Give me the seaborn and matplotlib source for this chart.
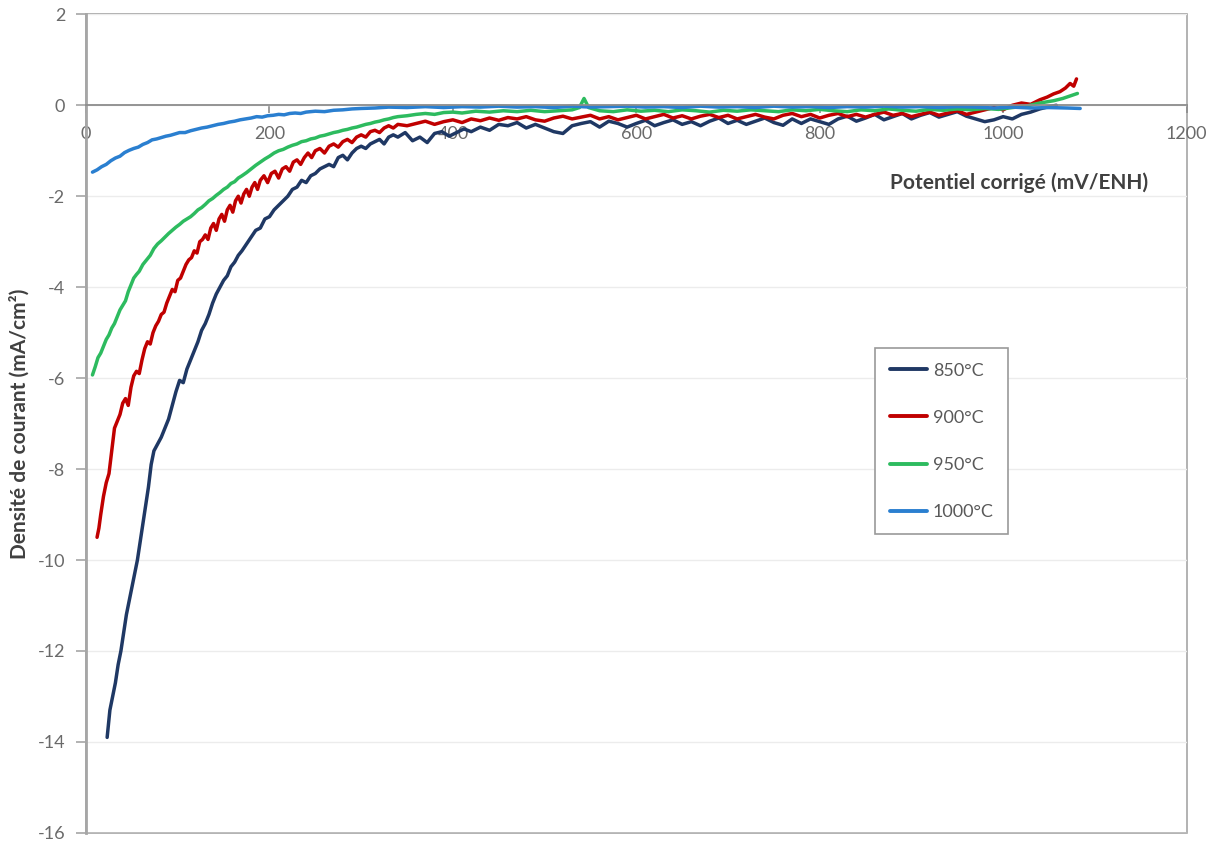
import numpy as np
import pandas as pd
import matplotlib
matplotlib.use("Agg")
import matplotlib.pyplot as plt
from matplotlib.lines import Line2D
from matplotlib.patches import Rectangle
import seaborn as sns

# --- data (mV/ENH, mA/cm2) ---
x_850 = [23, 26, 29, 32, 35, 38, 41, 44, 47, 50, 53, 56, 59, 62, 65, 68, 71, 74,
         78, 82, 86, 90, 94, 98, 102, 106, 110, 114, 118, 122, 126, 130, 134, 138,
         142, 146, 150, 154, 158, 162, 166, 170, 175, 180, 185, 190, 195, 200, 205,
         210, 215, 220, 225, 230, 235, 240, 245, 250, 255, 260, 265, 270, 275, 280,
         285, 290, 295, 300, 305, 310, 315, 320, 325, 330, 335, 340, 348, 356, 364,
         372, 380, 388, 396, 404, 412, 420, 430, 440, 450, 460, 470, 480, 490, 500,
         510, 520, 530, 540, 550, 560, 570, 580, 590, 600, 610, 620, 630, 640, 650,
         660, 670, 680, 690, 700, 710, 720, 730, 740, 750, 760, 770, 780, 790, 800,
         810, 820, 830, 840, 850, 860, 870, 880, 890, 900, 910, 920, 930, 940, 950,
         960, 970, 980, 990, 1000, 1010, 1020, 1030, 1040, 1050, 1058]
y_850 = [-13.9, -13.3, -13.0, -12.7, -12.3, -12.0, -11.6, -11.2, -10.9, -10.6, -10.3,
         -10.0, -9.6, -9.2, -8.8, -8.4, -7.9, -7.6, -7.45, -7.3, -7.1, -6.9, -6.6,
         -6.3, -6.05, -6.1, -5.8, -5.6, -5.4, -5.2, -4.95, -4.8, -4.6, -4.35, -4.15,
         -4.0, -3.85, -3.75, -3.55, -3.45, -3.3, -3.2, -3.05, -2.9, -2.75, -2.7, -2.5,
         -2.45, -2.3, -2.2, -2.1, -2.0, -1.85, -1.8, -1.65, -1.7, -1.55, -1.5, -1.4,
         -1.35, -1.3, -1.35, -1.15, -1.1, -1.2, -1.05, -0.95, -0.9, -0.95, -0.85, -0.8,
         -0.75, -0.85, -0.7, -0.65, -0.7, -0.6, -0.78, -0.7, -0.82, -0.62, -0.58, -0.68,
         -0.6, -0.52, -0.58, -0.48, -0.55, -0.42, -0.45, -0.38, -0.5, -0.42, -0.5,
         -0.58, -0.62, -0.45, -0.4, -0.36, -0.48, -0.35, -0.4, -0.48, -0.4, -0.33,
         -0.45, -0.38, -0.32, -0.42, -0.36, -0.45, -0.35, -0.28, -0.4, -0.33, -0.42,
         -0.35, -0.28, -0.38, -0.44, -0.3, -0.4, -0.3, -0.36, -0.42, -0.3, -0.24,
         -0.35, -0.28, -0.2, -0.32, -0.25, -0.18, -0.3, -0.22, -0.16, -0.26, -0.2,
         -0.14, -0.24, -0.3, -0.36, -0.32, -0.25, -0.3, -0.2, -0.15, -0.08, -0.03, 0.0]

x_900 = [12, 14, 16, 19, 22, 25, 28, 31, 34, 37, 40, 43, 46, 49, 52, 55, 58, 61, 64,
         67, 70, 73, 76, 79, 82, 85, 88, 91, 94, 97, 100, 103, 106, 109, 112, 115, 118,
         121, 124, 127, 130, 133, 136, 139, 142, 145, 148, 151, 154, 157, 160, 163, 166,
         169, 172, 175, 178, 181, 184, 187, 190, 194, 198, 202, 206, 210, 214, 218, 222,
         226, 230, 234, 238, 242, 246, 250, 255, 260, 265, 270, 275, 280, 285, 290, 295,
         300, 305, 310, 315, 320, 325, 330, 335, 340, 350, 360, 370, 380, 390, 400, 410,
         420, 430, 440, 450, 460, 470, 480, 490, 500, 510, 520, 530, 540, 550, 560, 570,
         580, 590, 600, 610, 620, 630, 640, 650, 660, 670, 680, 690, 700, 710, 720, 730,
         740, 750, 760, 770, 780, 790, 800, 810, 820, 830, 840, 850, 860, 870, 880, 890,
         900, 910, 920, 930, 940, 950, 960, 970, 980, 990, 1000, 1010, 1020, 1030, 1040,
         1048, 1055, 1062, 1068, 1073, 1077, 1080]
y_900 = [-9.5, -9.3, -9.0, -8.6, -8.3, -8.1, -7.6, -7.1, -6.95, -6.8, -6.55, -6.45,
         -6.6, -6.2, -5.95, -5.85, -5.9, -5.6, -5.35, -5.2, -5.25, -5.0, -4.85, -4.75,
         -4.6, -4.55, -4.35, -4.2, -4.05, -4.1, -3.85, -3.8, -3.65, -3.5, -3.4, -3.35,
         -3.2, -3.25, -3.0, -2.95, -2.85, -2.95, -2.7, -2.6, -2.75, -2.5, -2.4, -2.55,
         -2.3, -2.2, -2.35, -2.1, -2.0, -2.15, -1.95, -1.85, -2.0, -1.8, -1.7, -1.85,
         -1.65, -1.55, -1.7, -1.5, -1.45, -1.6, -1.4, -1.35, -1.45, -1.25, -1.2, -1.3,
         -1.15, -1.05, -1.15, -1.0, -0.95, -1.05, -0.9, -0.85, -0.92, -0.8, -0.75, -0.82,
         -0.7, -0.65, -0.7, -0.58, -0.55, -0.6, -0.5, -0.45, -0.5, -0.42, -0.45, -0.4,
         -0.35, -0.42, -0.36, -0.32, -0.38, -0.3, -0.34, -0.28, -0.33, -0.27, -0.3,
         -0.25, -0.32, -0.35, -0.28, -0.24, -0.3, -0.26, -0.22, -0.3, -0.25, -0.32,
         -0.27, -0.22, -0.3, -0.25, -0.2, -0.28, -0.23, -0.3, -0.24, -0.2, -0.27, -0.22,
         -0.3, -0.25, -0.2, -0.26, -0.3, -0.22, -0.18, -0.25, -0.2, -0.28, -0.22, -0.18,
         -0.25, -0.2, -0.26, -0.2, -0.15, -0.22, -0.18, -0.25, -0.2, -0.15, -0.22, -0.17,
         -0.12, -0.2, -0.15, -0.1, -0.05, -0.1, 0.0, 0.05, 0.02, 0.12, 0.18, 0.25, 0.3,
         0.38, 0.48, 0.42, 0.58]

x_950 = [7, 10, 13, 16, 19, 22, 25, 28, 31, 34, 37, 40, 43, 46, 49, 52, 55, 58, 62, 66,
         70, 74, 78, 82, 86, 90, 94, 98, 102, 106, 110, 114, 118, 122, 126, 130, 134,
         138, 142, 146, 150, 154, 158, 162, 166, 170, 175, 180, 185, 190, 195, 200, 205,
         210, 215, 220, 225, 230, 235, 240, 245, 250, 255, 260, 265, 270, 275, 280, 285,
         290, 295, 300, 305, 310, 315, 320, 325, 330, 335, 340, 350, 360, 370, 380, 390,
         400, 410, 425, 440, 455, 470, 485, 500, 515, 530, 538, 543, 548, 560, 575, 590,
         605, 620, 635, 650, 665, 680, 695, 710, 725, 740, 755, 770, 785, 800, 815, 830,
         845, 860, 875, 890, 905, 920, 935, 950, 965, 980, 995, 1010, 1025, 1040, 1055,
         1065, 1075, 1081]
y_950 = [-5.93, -5.75, -5.55, -5.45, -5.3, -5.15, -5.05, -4.9, -4.8, -4.65, -4.5, -4.4,
         -4.3, -4.1, -3.95, -3.8, -3.72, -3.65, -3.5, -3.4, -3.3, -3.15, -3.05, -2.98,
         -2.9, -2.82, -2.75, -2.68, -2.62, -2.55, -2.5, -2.45, -2.38, -2.3, -2.25, -2.18,
         -2.1, -2.05, -1.98, -1.92, -1.85, -1.8, -1.72, -1.68, -1.6, -1.55, -1.48, -1.4,
         -1.32, -1.25, -1.18, -1.12, -1.05, -1.0, -0.97, -0.92, -0.88, -0.85, -0.8, -0.78,
         -0.74, -0.72, -0.68, -0.66, -0.63, -0.6, -0.58, -0.55, -0.53, -0.5, -0.48, -0.45,
         -0.42, -0.4, -0.37, -0.35, -0.32, -0.3, -0.27, -0.25, -0.23, -0.2, -0.18, -0.2,
         -0.16, -0.15, -0.17, -0.13, -0.15, -0.12, -0.14, -0.11, -0.14, -0.12, -0.1,
         -0.05, 0.15, -0.05, -0.12, -0.14, -0.1, -0.13, -0.11, -0.14, -0.1, -0.12, -0.15,
         -0.11, -0.13, -0.1, -0.12, -0.14, -0.1, -0.12, -0.09, -0.12, -0.14, -0.1, -0.12,
         -0.08, -0.11, -0.13, -0.09, -0.11, -0.08, -0.1, -0.07, -0.09, -0.05, -0.02,
         0.05, 0.1, 0.15, 0.22, 0.26]

x_1000 = [7, 12, 17, 22, 27, 32, 37, 42, 47, 52, 57, 62, 67, 72, 77, 82, 87, 92, 97,
          102, 108, 114, 120, 126, 132, 138, 144, 150, 156, 162, 168, 174, 180, 186, 192,
          198, 204, 210, 216, 222, 228, 234, 240, 250, 260, 270, 280, 290, 300, 315, 330,
          350, 370, 390, 410, 430, 450, 470, 490, 510, 530, 550, 570, 590, 610, 630, 650,
          670, 690, 710, 730, 750, 770, 790, 810, 830, 850, 870, 890, 910, 930, 950, 970,
          990, 1010, 1030, 1050, 1070, 1084]
y_1000 = [-1.47, -1.42, -1.35, -1.3, -1.22, -1.16, -1.12, -1.04, -0.99, -0.95, -0.92,
          -0.86, -0.82, -0.76, -0.74, -0.71, -0.68, -0.66, -0.63, -0.6, -0.6, -0.56,
          -0.53, -0.5, -0.48, -0.45, -0.42, -0.4, -0.37, -0.35, -0.32, -0.3, -0.28,
          -0.25, -0.26, -0.23, -0.22, -0.2, -0.21, -0.18, -0.17, -0.18, -0.15, -0.13,
          -0.14, -0.11, -0.1, -0.08, -0.07, -0.06, -0.04, -0.05, -0.03, -0.05, -0.03,
          -0.04, -0.02, -0.04, -0.03, -0.05, -0.02, -0.04, -0.03, -0.02, -0.04, -0.03,
          -0.05, -0.02, -0.04, -0.03, -0.05, -0.02, -0.04, -0.03, -0.05, -0.03, -0.04,
          -0.02, -0.04, -0.03, -0.05, -0.03, -0.04, -0.06, -0.04, -0.06, -0.05, -0.06,
          -0.07]

labels = ["850°C", "900°C", "950°C", "1000°C"]
colors = ["#1f3864", "#c00000", "#2dbb5f", "#2a7fd0"]

frames = []
for lab, xs, ys in zip(labels, [x_850, x_900, x_950, x_1000],
                       [y_850, y_900, y_950, y_1000]):
    frames.append(pd.DataFrame({"E": xs, "j": ys, "T": lab}))
df = pd.concat(frames, ignore_index=True)

sns.set_theme(style="white")
plt.rcParams["font.family"] = ["Lato", "DejaVu Sans"]
plt.rcParams["axes.unicode_minus"] = False

fig = plt.figure(figsize=(12.12, 8.43), dpi=100)
ax = fig.add_axes([0.071, 0.012, 0.908, 0.971])

sns.lineplot(data=df, x="E", y="j", hue="T", hue_order=labels,
             palette=dict(zip(labels, colors)), sort=False, estimator=None,
             linewidth=2.5, legend=False, ax=ax)

grey = "#8c8c8c"
ax.set_xlim(0, 1200)
ax.set_ylim(-16, 2)
ax.set_xticks(np.arange(0, 1201, 200))
ax.set_yticks(np.arange(-16, 3, 2))
ax.yaxis.grid(True, color="#ececec", linewidth=1)
ax.xaxis.grid(False)

for s in ["top", "right"]:
    ax.spines[s].set_visible(False)
ax.spines["bottom"].set_position(("data", 0))
ax.spines["bottom"].set_color(grey)
ax.spines["bottom"].set_linewidth(1.3)
ax.spines["left"].set_color("#a6a6a6")
ax.spines["left"].set_linewidth(2)
ax.add_patch(Rectangle((0, 0), 1, 1, transform=ax.transAxes, fill=False,
                       edgecolor="#a6a6a6", linewidth=1.2, clip_on=False, zorder=0))

ax.tick_params(axis="x", bottom=True, direction="out", length=6, width=1.2,
               color=grey, pad=9, labelsize=13, labelcolor="#6a6a6a")
ax.tick_params(axis="y", left=True, direction="out", length=7, width=1.2,
               color="#a6a6a6", pad=8, labelsize=13, labelcolor="#6a6a6a")

ax.set_xlabel("Potentiel corrigé (mV/ENH)", fontsize=15, fontweight="bold",
              color="#404040")
ax.xaxis.label.set_va("center")
ax.xaxis.set_label_coords(0.848, 0.794)
ax.set_ylabel("Densité de courant (mA/cm²)", fontsize=15, fontweight="bold",
              color="#404040", labelpad=6)

handles = [Line2D([], [], color=c, linewidth=2.8) for c in colors]
leg = ax.legend(handles, labels, loc="upper left", bbox_to_anchor=(0.717, 0.592),
                fontsize=13, frameon=True, fancybox=False, framealpha=1,
                edgecolor="#9a9a9a", labelspacing=1.72, handlelength=2.1,
                handletextpad=0.3, borderpad=0.8, borderaxespad=0)
leg.get_frame().set_linewidth(1.2)
for t in leg.get_texts():
    t.set_color("#595959")

fig.savefig("out.png", dpi=100)
